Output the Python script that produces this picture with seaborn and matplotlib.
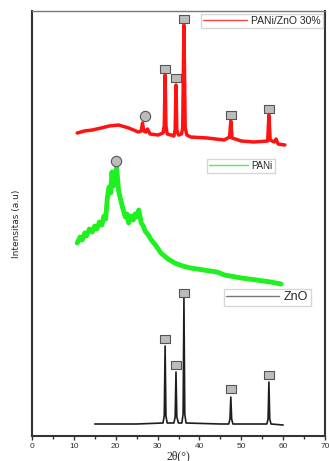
import matplotlib
matplotlib.use('Agg')
import matplotlib.pyplot as plt
import seaborn as sns
from matplotlib.lines import Line2D
from matplotlib.ticker import MultipleLocator

sns.set_style('white')
plt.rcParams['font.family'] = ['Liberation Sans', 'DejaVu Sans']

# ZnO pattern
zno_x = [15, 25, 31.3, 31.6, 31.8, 32.0, 32.3, 33.9, 34.2, 34.4, 34.6, 35.0, 35.8, 36.1, 36.3, 36.5, 36.8,
         45, 47.0, 47.3, 47.5, 47.7, 48.0, 56.1, 56.4, 56.6, 56.8, 57.1, 60]
zno_y = [12, 12, 13, 20, 90, 20, 13, 13, 19, 64, 19, 13, 13, 22, 138, 22, 13,
         12, 12, 17, 39, 17, 12, 12, 17, 54, 17, 12, 11]

# PANi pattern
pani_x = [10.8, 11.5, 12, 12.6, 13, 13.7, 14.4, 15.0, 15.5, 16.1, 16.7, 17.2, 17.6, 18.0, 18.4, 18.8, 19.1,
          19.5, 19.8, 20.2, 20.7, 21.2, 21.8, 22.3, 22.7, 23.1, 23.6, 24.2, 24.6, 25.0, 25.5, 26.1,
          26.6, 27.0, 27.8, 28.5, 29.5, 30.8, 32.5, 34.1, 36, 37.9, 41, 44.2, 46, 50, 53.6, 57, 59.5]
pani_y = [193, 199, 196, 203, 200, 207, 204, 210, 207, 214, 211, 220, 217, 238, 249, 243, 264,
          250, 255, 269, 245, 236, 226, 219, 222, 213, 220, 216, 222, 219, 226, 213,
          210, 205, 201, 196, 191, 183, 177, 173, 170, 168, 166, 164, 161, 158, 156, 154, 152]

# PANi/ZnO 30% pattern
comp_x = [10.8, 12.5, 14.4, 16.5, 18.4, 20.7, 23.1, 25.4, 26.1, 26.4, 26.7, 27.2, 27.6, 28.2, 30.1,
          31.3, 31.6, 31.8, 32.0, 32.3, 33.2, 33.9, 34.2, 34.4, 34.6, 35.0, 35.7, 36.0, 36.3, 36.6, 37.0,
          37.9, 41.9, 45.9, 47.2, 47.5, 47.8, 50, 53, 56.3, 56.6, 56.9, 57.9, 58.3, 58.8, 60.4]
comp_y = [303, 305, 306, 308, 310, 311, 308, 304, 305, 313, 305, 304, 307, 302, 301,
          303, 310, 361, 310, 302, 301, 300, 306, 351, 306, 301, 302, 308, 411, 308, 301,
          299, 298, 296, 299, 315, 298, 295, 294, 295, 321, 296, 294, 297, 292, 291]

# peak markers
rect_x = [31.8, 34.4, 36.3, 47.5, 56.6]
rect_zno_y = [97, 71, 143, 47, 61]
rect_comp_y = [367, 358, 417, 321, 327]
circle_x = [27.1, 20.0]
circle_y = [320, 275]

fig = plt.figure(figsize=(3.29, 4.61), dpi=100)
ax = fig.add_axes([32 / 329, 1 - 436 / 461, 293 / 329, 425 / 461])

sns.lineplot(x=comp_x, y=comp_y, color='#ff1212', lw=2.5, ax=ax)
sns.lineplot(x=pani_x, y=pani_y, color='#1ff01f', lw=3.5, ax=ax)
sns.lineplot(x=zno_x, y=zno_y, color='#1e1e1e', lw=1.2, ax=ax)

rect = [(-1.45, -1), (1.45, -1), (1.45, 1), (-1.45, 1), (-1.45, -1)]
for ys in (rect_zno_y, rect_comp_y):
    sns.scatterplot(x=rect_x, y=ys, marker=rect, s=60, color='#bcbcbc',
                    edgecolor='#555555', linewidth=0.8, ax=ax, zorder=5)
sns.scatterplot(x=circle_x, y=circle_y, marker='o', s=55, color='#bcbcbc',
                edgecolor='#555555', linewidth=0.8, ax=ax, zorder=5)

ax.set_xlim(0, 70)
ax.set_ylim(0, 425)
ax.set_yticks([])
ax.xaxis.set_major_locator(MultipleLocator(10))
ax.xaxis.set_minor_locator(MultipleLocator(5))
ax.tick_params(axis='x', which='both', direction='out', bottom=True, length=3,
               width=1, color='#333333', labelsize=6, labelcolor='#333333', pad=2)
ax.tick_params(axis='x', which='minor', length=2)
for side in ['left', 'right', 'bottom']:
    ax.spines[side].set_color('#333333')
    ax.spines[side].set_linewidth(1.5)
ax.spines['top'].set_color('#777777')
ax.spines['top'].set_linewidth(1.0)

ax.set_xlabel('2θ(°)', fontsize=8.5, family=['Liberation Serif', 'DejaVu Serif'], labelpad=0)
ax.set_ylabel('Intensitas (a.u)', fontsize=6.5, family=['Liberation Sans Narrow', 'DejaVu Sans'],
              labelpad=8)

leg_kw = dict(loc='upper left', frameon=True, fancybox=False, edgecolor='#cccccc',
              borderpad=0.2, handletextpad=0.4, borderaxespad=0)
leg1 = ax.legend([Line2D([], [], color='#ff4444', lw=1)], ['PANi/ZnO 30%'],
                 bbox_to_anchor=(0.577, 0.993), handlelength=4.2, fontsize=7.5, **leg_kw)
ax.add_artist(leg1)
leg2 = ax.legend([Line2D([], [], color='#55ee55', lw=1)], ['PANi'],
                 bbox_to_anchor=(0.597, 0.652), handlelength=4.0, fontsize=7, **leg_kw)
ax.add_artist(leg2)
leg3 = ax.legend([Line2D([], [], color='#777777', lw=1)], ['ZnO'],
                 bbox_to_anchor=(0.655, 0.346), handlelength=4.2, fontsize=9, **leg_kw)

fig.savefig('out.png', dpi=100)
